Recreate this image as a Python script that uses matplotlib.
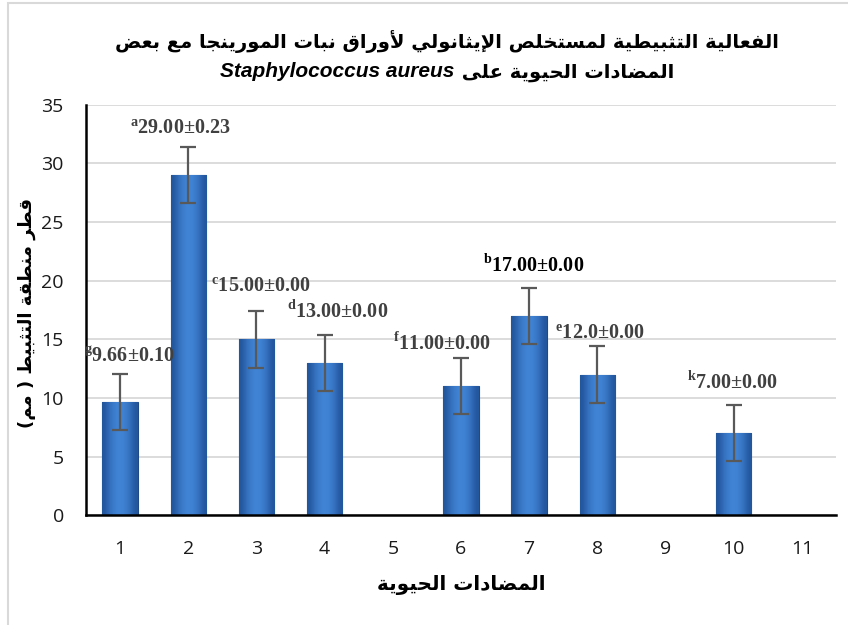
import numpy as np
import matplotlib
matplotlib.use("Agg")
import matplotlib.pyplot as plt
from matplotlib.patches import Rectangle
from matplotlib.offsetbox import TextArea, HPacker, AnchoredOffsetbox

# =====================================================
# DATA
# =====================================================

categories = list(range(1, 12))

bar_cats = [1, 2, 3, 4, 6, 7, 8, 10]
bar_vals = [9.66, 29.00, 15.00, 13.00, 11.00, 17.00, 12.00, 7.00]
bar_errs = [2.4, 2.4, 2.4, 2.4, 2.4, 2.4, 2.4, 2.4]

label_sup = ["g", "a", "c", "d", "f", "b", "e", "k"]
label_txt = ["9.66±0.10", "29.00±0.23", "15.00±0.00", "13.00±0.00",
             "11.00±0.00", "17.00±0.00", "12.0±0.00", "7.00±0.00"]

title_1 = "الفعالية التثبيطية لمستخلص الإيثانولي لأوراق نبات المورينجا مع بعض"
title_2 = "المضادات الحيوية على"
title_latin = "Staphylococcus aureus"
x_title = "المضادات الحيوية"
y_title = "قطر منطقة التثبيط ( مم)"

# =====================================================
# SIMPLE ARABIC SHAPING (no bidi support in matplotlib)
# =====================================================

FORMS = {
    "ا": (0xFE8D, 0xFE8E, None, None),
    "أ": (0xFE83, 0xFE84, None, None),
    "إ": (0xFE87, 0xFE88, None, None),
    "آ": (0xFE81, 0xFE82, None, None),
    "ب": (0xFE8F, 0xFE90, 0xFE91, 0xFE92),
    "ة": (0xFE93, 0xFE94, None, None),
    "ت": (0xFE95, 0xFE96, 0xFE97, 0xFE98),
    "ث": (0xFE99, 0xFE9A, 0xFE9B, 0xFE9C),
    "ج": (0xFE9D, 0xFE9E, 0xFE9F, 0xFEA0),
    "ح": (0xFEA1, 0xFEA2, 0xFEA3, 0xFEA4),
    "خ": (0xFEA5, 0xFEA6, 0xFEA7, 0xFEA8),
    "د": (0xFEA9, 0xFEAA, None, None),
    "ذ": (0xFEAB, 0xFEAC, None, None),
    "ر": (0xFEAD, 0xFEAE, None, None),
    "ز": (0xFEAF, 0xFEB0, None, None),
    "س": (0xFEB1, 0xFEB2, 0xFEB3, 0xFEB4),
    "ش": (0xFEB5, 0xFEB6, 0xFEB7, 0xFEB8),
    "ص": (0xFEB9, 0xFEBA, 0xFEBB, 0xFEBC),
    "ض": (0xFEBD, 0xFEBE, 0xFEBF, 0xFEC0),
    "ط": (0xFEC1, 0xFEC2, 0xFEC3, 0xFEC4),
    "ظ": (0xFEC5, 0xFEC6, 0xFEC7, 0xFEC8),
    "ع": (0xFEC9, 0xFECA, 0xFECB, 0xFECC),
    "غ": (0xFECD, 0xFECE, 0xFECF, 0xFED0),
    "ف": (0xFED1, 0xFED2, 0xFED3, 0xFED4),
    "ق": (0xFED5, 0xFED6, 0xFED7, 0xFED8),
    "ك": (0xFED9, 0xFEDA, 0xFEDB, 0xFEDC),
    "ل": (0xFEDD, 0xFEDE, 0xFEDF, 0xFEE0),
    "م": (0xFEE1, 0xFEE2, 0xFEE3, 0xFEE4),
    "ن": (0xFEE5, 0xFEE6, 0xFEE7, 0xFEE8),
    "ه": (0xFEE9, 0xFEEA, 0xFEEB, 0xFEEC),
    "و": (0xFEED, 0xFEEE, None, None),
    "ى": (0xFEEF, 0xFEF0, None, None),
    "ي": (0xFEF1, 0xFEF2, 0xFEF3, 0xFEF4),
}
LAMALEF = {"ا": (0xFEFB, 0xFEFC), "أ": (0xFEF7, 0xFEF8),
           "إ": (0xFEF9, 0xFEFA), "آ": (0xFEF5, 0xFEF6)}


def dual(c):
    return c in FORMS and FORMS[c][2] is not None


def shape(s):
    res = []
    i = 0
    n = len(s)
    while i < n:
        c = s[i]
        if c not in FORMS:
            res.append(c)
            i += 1
            continue
        prev = s[i - 1] if i > 0 else ""
        conn_prev = dual(prev)
        if c == "ل" and i + 1 < n and s[i + 1] in LAMALEF:
            iso, fin = LAMALEF[s[i + 1]]
            res.append(chr(fin if conn_prev else iso))
            i += 2
            continue
        nxt = s[i + 1] if i + 1 < n else ""
        conn_next = dual(c) and nxt in FORMS
        iso, fin, ini, med = FORMS[c]
        if conn_prev and conn_next:
            res.append(chr(med))
        elif conn_prev:
            res.append(chr(fin))
        elif conn_next:
            res.append(chr(ini))
        else:
            res.append(chr(iso))
        i += 1
    out = "".join(reversed(res))
    return out.translate(str.maketrans("()", ")("))


# =====================================================
# FIGURE
# =====================================================

plt.rcParams["mathtext.fontset"] = "custom"
plt.rcParams["mathtext.bf"] = "Liberation Serif:bold"
plt.rcParams["mathtext.rm"] = "Liberation Serif:bold"

fig = plt.figure(figsize=(8.48, 6.25), dpi=100)
fig.patch.set_facecolor("white")

W, H = 848.0, 625.0
ax = fig.add_axes([86 / W, 1 - 515.4 / H, 750 / W, 410.7 / H])

# chart border (cropped Excel frame)
fig.patches.append(Rectangle((8 / W, -0.2), 1.5, 1.2 - 3 / H,
                             transform=fig.transFigure, fill=False,
                             edgecolor="#D9D9D9", linewidth=1.5))

# bars
bar_w = 0.52
bars = ax.bar(bar_cats, bar_vals, width=bar_w, color="#3874C4",
              edgecolor="#1F4A85", linewidth=0.8, zorder=2)

grad = np.array([[0.0, 0.55, 0.85, 1.0, 0.85, 0.55, 0.0]])
cmap = matplotlib.colors.LinearSegmentedColormap.from_list(
    "bar", ["#22559C", "#4286D8"])
for b in bars:
    im = ax.imshow(grad, extent=[b.get_x(), b.get_x() + b.get_width(),
                                 0, b.get_height()],
                   aspect="auto", cmap=cmap, interpolation="bicubic",
                   zorder=2.1)
    im.set_clip_path(b)

ax.errorbar(bar_cats, bar_vals, yerr=bar_errs, fmt="none",
            ecolor="#595959", elinewidth=1.6, capsize=5.5,
            capthick=1.6, zorder=3)

# axes styling
ax.set_xlim(0.5, 11.5)
ax.set_ylim(0, 35)
ax.set_yticks(range(0, 36, 5))
ax.set_xticks(categories)
ax.yaxis.grid(True, color="#D9D9D9", linewidth=1.3, zorder=0)
ax.set_axisbelow(True)
for s in ["top", "right"]:
    ax.spines[s].set_visible(False)
for s in ["left", "bottom"]:
    ax.spines[s].set_color("black")
    ax.spines[s].set_linewidth(1.8)
ax.tick_params(axis="both", length=0, labelsize=14, colors="#1A1A1A")
ax.tick_params(axis="y", pad=16)
ax.tick_params(axis="x", pad=18)
for lab in ax.get_xticklabels() + ax.get_yticklabels():
    lab.set_fontfamily("Open Sans")

# data labels (positions moved by hand in the original)
label_pos = [(1.13, 13.5), (1.89, 32.9), (3.07, 19.5), (4.19, 17.3),
             (5.72, 14.6), (7.06, 21.3), (8.04, 15.5), (9.99, 11.3)]
for (lx, ly), sup, txt in zip(label_pos, label_sup, label_txt):
    col = "black" if sup == "b" else "#404040"
    ax.text(lx, ly, r"$^{\mathbf{%s}}$" % sup + txt, ha="center",
            va="center", fontsize=14.5, fontweight="bold",
            family="Liberation Serif", color=col, zorder=4)

# titles
fig.text(447 / W, 1 - 42 / H, shape(title_1), ha="center", va="center",
         fontsize=14, fontweight="bold", family="DejaVu Sans")

ta_lat = TextArea(title_latin, textprops=dict(
    fontsize=15, fontweight="bold", fontstyle="italic",
    family="Liberation Sans"))
ta_ar = TextArea(" " + shape(title_2), textprops=dict(
    fontsize=14, fontweight="bold", family="DejaVu Sans"))
pack = HPacker(children=[ta_lat, ta_ar], align="baseline", pad=0, sep=0)
anch = AnchoredOffsetbox(loc="center", child=pack, frameon=False,
                         bbox_to_anchor=(447 / W, 1 - 72 / H),
                         bbox_transform=fig.transFigure, pad=0,
                         borderpad=0)
fig.add_artist(anch)

fig.text(461 / W, 1 - 585 / H, shape(x_title), ha="center", va="center",
         fontsize=14.4, fontweight="bold", family="DejaVu Sans")
fig.text(27 / W, 1 - 313 / H, shape(y_title), ha="center", va="center",
         rotation=90, fontsize=13, fontweight="bold", family="DejaVu Sans")

fig.savefig("out.png", dpi=100, facecolor="white")
